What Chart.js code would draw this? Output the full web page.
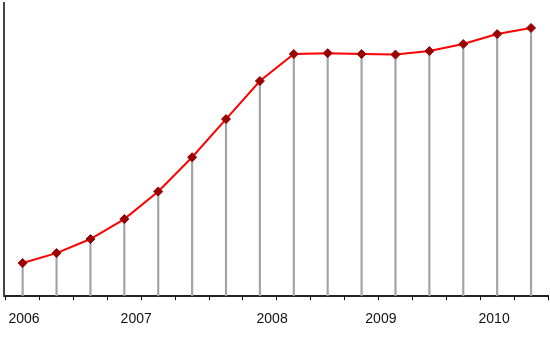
<!DOCTYPE html>
<html>
<head>
<meta charset="utf-8">
<script src="https://cdn.jsdelivr.net/npm/chart.js@4"></script>
<style>
    body { margin: 0; background: #fff; }
    #wrap { width: 550px; height: 356px; position: relative; }
</style>
</head>
<body>
<div id="wrap"><canvas id="myChart"></canvas></div>
<script>
// one point per period (y axis has no scale, 0..100)
const values = [11.3, 14.7, 19.5, 26.3, 35.7, 47.4, 60.4, 73.4, 82.6, 82.9, 82.6, 82.4, 83.6, 86.0, 89.4, 91.5];
// year labels and where they sit along the period axis
const yearLabels = ["2006", "2007", "2008", "2009", "2010"];
const yearPos = [0.04, 3.35, 7.36, 10.57, 13.91];
// small tick marks between periods
const tickMarks = [-0.5, 0.5, 1.5, 2.5, 3.5, 4.5, 5.5, 6.5, 7.5, 8.5, 9.5, 10.5, 11.5, 12.5, 13.5, 14.5, 15.5];

let points = [];
for (let i = 0; i < values.length; i++) {
    points.push({x: i, y: values[i]});
}

function labelFor(v) {
    let k = yearPos.indexOf(v);
    return k >= 0 ? yearLabels[k] : "";
}

const ctx = document.getElementById('myChart').getContext('2d');
const myChart = new Chart(ctx, {
    type: 'line',
    data: {
        datasets: [{
            type: 'line',
            data: points,
            borderColor: '#ff0000',
            borderWidth: 2,
            tension: 0,
            pointStyle: 'rectRot',
            pointRadius: 4.5,
            pointBackgroundColor: '#990000',
            pointBorderColor: '#990000',
            pointBorderWidth: 1,
            clip: false,
            order: 0
        }, {
            type: 'bar',
            data: points,
            backgroundColor: '#a3a3a3',
            barThickness: 1.5,
            order: 1
        }]
    },
    options: {
        responsive: true,
        maintainAspectRatio: false,
        animation: false,
        layout: { autoPadding: false, padding: { left: 4, top: 3, right: 2, bottom: 17 } },
        plugins: { legend: { display: false }, tooltip: { enabled: false } },
        scales: {
            x: {
                type: 'linear',
                min: -0.55,
                max: 15.5,
                offset: false,
                afterBuildTicks: function(scale) {
                    let all = tickMarks.concat(yearPos).sort((a, b) => a - b);
                    scale.ticks = all.map(v => ({value: v}));
                },
                afterFit: function(scale) {
                    scale.paddingLeft = 0;
                    scale.paddingRight = 0;
                },
                ticks: {
                    autoSkip: false,
                    maxRotation: 0,
                    padding: 11,
                    color: '#111',
                    font: { family: 'Liberation Sans', size: 14 },
                    callback: function(v) { return labelFor(v); }
                },
                grid: {
                    offset: false,
                    drawOnChartArea: false,
                    drawTicks: true,
                    tickLength: 4,
                    tickWidth: 1,
                    tickColor: function(c) {
                        return c.tick && yearPos.indexOf(c.tick.value) >= 0 ? 'rgba(0,0,0,0)' : '#000';
                    }
                },
                border: { display: true, color: '#222', width: 2 }
            },
            y: {
                min: 0,
                max: 100,
                ticks: { display: false },
                grid: { display: false, drawTicks: false },
                border: { display: true, color: '#444', width: 2 }
            }
        }
    }
});
</script>
</body>
</html>
